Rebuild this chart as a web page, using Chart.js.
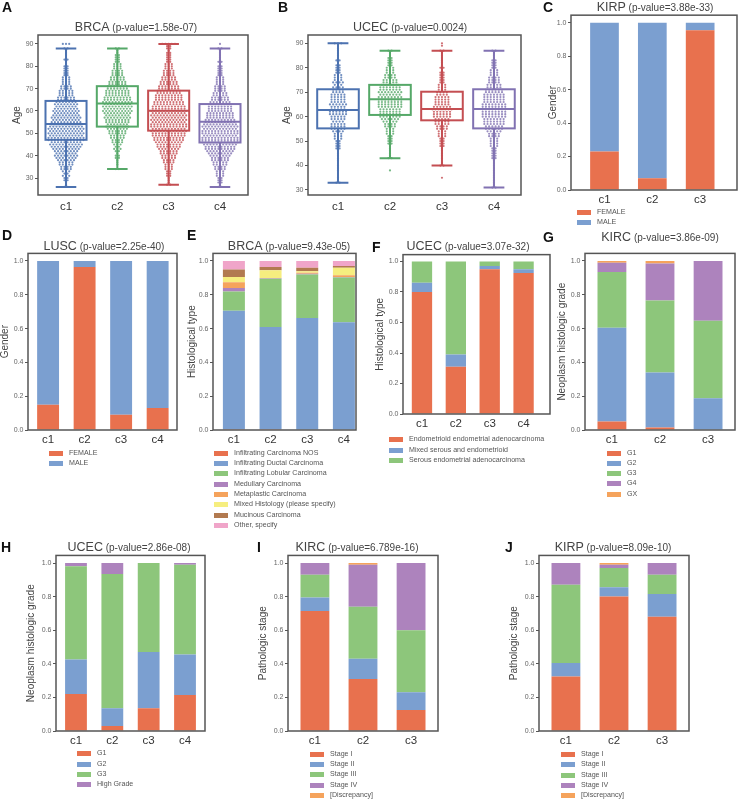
<!DOCTYPE html>
<html>
<head>
<meta charset="utf-8">
<script src="https://cdn.jsdelivr.net/npm/chart.js@4.4.1/dist/chart.umd.min.js"></script>
<style>
body { margin: 0; background: #fff; font-family: "Liberation Sans", Arial, sans-serif; }
#fig { position: relative; width: 738px; height: 800px; overflow: hidden; background: #fff; }
#fig canvas { position: absolute; }
.lbl { position: absolute; font-weight: bold; font-size: 14px; line-height: 16px; color: #111; }
.ttl { position: absolute; white-space: nowrap; transform: translate(-50%, -50%); color: #444; font-size: 10px; line-height: 14px; }
.ttl span { font-size: 12.5px; }
.leg { position: absolute; font-size: 7.1px; color: #555; line-height: 10px; white-space: nowrap; }
.leg i { display: inline-block; width: 14px; height: 5px; margin-right: 6px; vertical-align: -1px; }
</style>
</head>
<body>
<div id="fig"></div>
<script>
// ---- data ----
const cats = ['c1', 'c2', 'c3', 'c4'];
const ageStart = 26; // counts below are patients per year of age, 26..90

// A: BRCA age
const brcaAgeC1 = [2,1,1,2,2,3,2,3,4,4, 5,5,6,7,8,7,8,9,10,11, 10,12,12,11,12,11,12,11,10,10, 9,10,9,8,9,8,7,8,7,6, 6,5,5,5,4,4,3,3,3,3, 2,2,2,2,2,1,1,2,1,1, 1,1,2,0,3];
const brcaAgeC2 = [0,0,0,0,0,0,0,0,2,0, 1,1,1,2,2,1,2,3,2,3, 4,4,5,5,6,6,7,8,7,8, 8,9,8,9,10,9,10,9,10,9, 9,8,8,8,7,7,6,6,5,5, 4,4,4,3,3,3,2,2,2,2, 1,1,2,0,0];
const brcaAgeC3 = [0,2,1,1,1,2,2,2,3,3, 3,4,4,5,5,6,6,7,8,8, 9,10,10,11,11,12,11,12,12,11, 12,11,12,11,12,11,11,10,10,9, 9,9,8,8,7,7,6,6,5,5, 4,4,4,3,3,3,2,2,2,2, 2,1,2,2,5];
const brcaAgeC4 = [2,1,2,2,2,3,3,3,4,4, 5,5,6,6,7,8,9,10,10,11, 12,12,12,11,12,12,11,12,11,10, 10,9,9,9,8,8,8,7,7,6, 6,5,5,4,4,4,3,3,3,3, 2,2,2,2,2,1,2,1,1,1, 1,1,2,0,1];
const brcaQ1 = [47.1, 53.0, 51.2, 45.9];
const brcaMed = [54.2, 63.4, 60.1, 55.2];
const brcaQ3 = [64.5, 71.1, 69.1, 63.1];
const brcaLo = [26, 34, 27, 26];
const brcaHi = [88, 88, 90, 88];

// B: UCEC age
const ucecAgeC1 = [0,0,0,0,0,0,0,2,0,1, 0,0,1,1,1,0,1,1,1,1, 1,2,2,2,2,3,3,3,4,5, 5,5,4,5,5,6,6,5,5,6, 5,5,5,5,4,4,4,3,4,3, 3,3,2,2,2,2,1,2,1,1, 1,1,1,0,3];
const ucecAgeC2 = [0,0,0,0,0,0,0,0,0,0, 0,0,1,0,0,0,0,2,1,1, 1,1,1,2,2,2,2,3,3,3, 4,4,5,6,7,7,7,7,8,8, 8,8,8,7,8,7,7,6,5,5, 4,4,3,3,3,2,2,2,2,1, 1,2,0,0,0];
const ucecAgeC3 = [0,0,0,0,0,0,0,0,0,1, 0,0,0,0,2,1,0,1,1,1, 1,1,2,2,2,2,3,3,3,4, 4,5,5,5,6,6,6,7,6,5, 5,5,5,4,4,3,3,3,2,2, 2,2,2,1,2,1,1,1,1,1, 1,2,0,1,1];
const ucecAgeC4 = [0,0,0,0,0,2,1,1,1,1, 1,1,1,1,1,1,1,2,2,2, 2,2,3,3,3,3,4,4,5,6, 6,7,7,7,8,8,8,8,8,8, 7,7,7,7,6,6,5,5,4,4, 4,3,3,3,2,2,2,2,1,1, 1,2,0,0,0];
const ucecQ1 = [55.2, 60.7, 58.5, 55.2];
const ucecMed = [62.7, 67.1, 63.1, 63.1];
const ucecQ3 = [71.2, 73.0, 70.2, 71.2];
const ucecLo = [33, 43, 40, 31];
const ucecHi = [90, 87, 87, 87];

// C / D: gender
const genderLabels = ['FEMALE', 'MALE'];
const kirpFemale = [0.23, 0.07, 0.955];
const kirpMale = [0.77, 0.93, 0.045];
const luscFemale = [0.15, 0.965, 0.09, 0.13];
const luscMale = [0.85, 0.035, 0.91, 0.87];

// E: BRCA histological type
const brcaHistLabels = ['Infiltrating Carcinoma NOS', 'Infiltrating Ductal Carcinoma', 'Infiltrating Lobular Carcinoma',
  'Medullary Carcinoma', 'Metaplastic Carcinoma', 'Mixed Histology (please specify)', 'Mucinous Carcinoma', 'Other, specify'];
const brcaNOS = [0.005, 0.005, 0.003, 0.003];
const brcaDuctal = [0.70, 0.605, 0.66, 0.635];
const brcaLobular = [0.115, 0.285, 0.257, 0.265];
const brcaMedullary = [0.02, 0.003, 0.005, 0.002];
const brcaMetaplastic = [0.035, 0.002, 0.005, 0.01];
const brcaMixed = [0.03, 0.045, 0.01, 0.045];
const brcaMucinous = [0.045, 0.02, 0.02, 0.01];
const brcaOther = [0.05, 0.035, 0.04, 0.03];

// F: UCEC histological type
const ucecHistLabels = ['Endometrioid endometrial adenocarcinoma', 'Mixed serous and endometrioid', 'Serous endometrial adenocarcinoma'];
const ucecEndo = [0.80, 0.31, 0.95, 0.925];
const ucecMixedHist = [0.06, 0.08, 0.02, 0.025];
const ucecSerous = [0.14, 0.61, 0.03, 0.05];

// G: KIRC grade
const kircGradeLabels = ['G1', 'G2', 'G3', 'G4', 'GX'];
const kircG1 = [0.05, 0.015, 0];
const kircG2 = [0.555, 0.325, 0.188];
const kircG3 = [0.33, 0.427, 0.458];
const kircG4 = [0.055, 0.218, 0.354];
const kircGX = [0.01, 0.015, 0];

// H: UCEC grade
const ucecGradeLabels = ['G1', 'G2', 'G3', 'High Grade'];
const ucecG1 = [0.22, 0.03, 0.135, 0.215];
const ucecG2 = [0.205, 0.105, 0.335, 0.24];
const ucecG3 = [0.555, 0.80, 0.53, 0.535];
const ucecHigh = [0.02, 0.065, 0, 0.01];

// I / J: pathologic stage
const stageLabels = ['Stage I', 'Stage II', 'Stage III', 'Stage IV', '[Discrepancy]'];
const kircS1 = [0.715, 0.31, 0.125];
const kircS2 = [0.08, 0.12, 0.105];
const kircS3 = [0.135, 0.31, 0.37];
const kircS4 = [0.07, 0.25, 0.40];
const kircSD = [0, 0.01, 0];
const kirpS1 = [0.325, 0.80, 0.68];
const kirpS2 = [0.08, 0.055, 0.135];
const kirpS3 = [0.465, 0.115, 0.115];
const kirpS4 = [0.13, 0.02, 0.07];
const kirpSD = [0, 0.01, 0];

// ---- colours ----
const boxCols = ['#4c72b0', '#55a868', '#c44e52', '#8172b2'];
const dotCols = ['rgba(76,114,176,0.8)', 'rgba(85,168,104,0.8)', 'rgba(196,78,82,0.8)', 'rgba(129,114,178,0.8)'];
const red = '#e8714e', blue = '#7b9fd0', green = '#8dc67b', purple = '#ad83bd',
  orange = '#f5a35c', yellow = '#f6ee7f', brown = '#b27a50', pink = '#f0a5c9';

const fig = document.getElementById('fig');
Chart.defaults.font.family = '"Liberation Sans", Arial, sans-serif';
Chart.defaults.animation = false;

// box around the plot area
const framePlugin = {
  id: 'frame',
  afterDraw(chart) {
    const a = chart.chartArea, c = chart.ctx;
    c.save();
    c.strokeStyle = '#555';
    c.lineWidth = 1.5;
    c.strokeRect(a.left, a.top, a.right - a.left, a.bottom - a.top);
    c.restore();
  }
};

// boxes, whiskers and caps drawn through the chart scales
const boxPlugin = {
  id: 'boxes',
  afterDatasetsDraw(chart, args, o) {
    if (!o.q1) return;
    const xs = chart.scales.x, ys = chart.scales.y, c = chart.ctx;
    c.save();
    c.lineWidth = 2;
    o.q1.forEach((q1, i) => {
      const xl = xs.getPixelForValue(i - 0.4), xr = xs.getPixelForValue(i + 0.4);
      const xm = xs.getPixelForValue(i);
      const cl = xs.getPixelForValue(i - 0.2), cr = xs.getPixelForValue(i + 0.2);
      const y1 = ys.getPixelForValue(q1), y3 = ys.getPixelForValue(o.q3[i]);
      const ym = ys.getPixelForValue(o.med[i]);
      const yl = ys.getPixelForValue(o.lo[i]), yh = ys.getPixelForValue(o.hi[i]);
      c.strokeStyle = o.colors[i];
      c.strokeRect(xl, y3, xr - xl, y1 - y3);
      c.beginPath();
      c.moveTo(xl, ym); c.lineTo(xr, ym);
      c.moveTo(xm, y3); c.lineTo(xm, yh);
      c.moveTo(xm, y1); c.lineTo(xm, yl);
      c.moveTo(cl, yh); c.lineTo(cr, yh);
      c.moveTo(cl, yl); c.lineTo(cr, yl);
      c.stroke();
    });
    c.restore();
  }
};

// spread the patients of one age side by side (swarm layout)
function swarm(counts, g) {
  const pts = [];
  counts.forEach((n, k) => {
    for (let j = 0; j < n; j++) pts.push({x: g + (j - (n - 1) / 2) * 0.062, y: ageStart + k});
  });
  return pts;
}

function addText(cls, html, x, y) {
  const d = document.createElement('div');
  d.className = cls;
  d.innerHTML = html;
  d.style.left = x + 'px';
  d.style.top = y + 'px';
  fig.appendChild(d);
}

function legend(x, y0, step, labels, colors) {
  labels.forEach((l, k) => {
    addText('leg', '<i style="background:' + colors[k] + '"></i>' + l, x, y0 + k * step - 5);
  });
}

function makeChart(f, type, datasets, n, ymin, ymax, ystep, fmt, plugOpts) {
  const xh = 30;
  const left = Math.round(f.tx - 6);
  const top = Math.round(f.t) - 10;
  const w = Math.round(f.r) + 10 - left;
  const h = Math.round(f.b) - top + xh;
  const cv = document.createElement('canvas');
  cv.width = w; cv.height = h;
  cv.style.left = left + 'px'; cv.style.top = top + 'px';
  cv.style.width = w + 'px'; cv.style.height = h + 'px';
  fig.appendChild(cv);
  new Chart(cv, {
    type: type,
    data: {datasets: datasets},
    plugins: [boxPlugin, framePlugin],
    options: {
      responsive: false,
      events: [],
      layout: {padding: {top: f.t - top, right: 10, left: 0, bottom: 0}},
      plugins: {legend: {display: false}, tooltip: {enabled: false}, boxes: plugOpts || {}},
      scales: {
        x: {
          type: 'linear', min: f.xmin, max: f.xmax, offset: false, stacked: type === 'bar',
          border: {display: false}, grid: {display: false, drawTicks: false, offset: false},
          ticks: {color: '#333', font: {size: 11.5}, padding: f.xpad, callback: v => cats[v]},
          afterBuildTicks: s => { s.ticks = cats.slice(0, n).map((c, i) => ({value: i})); },
          afterFit: s => { s.height = xh; }
        },
        y: {
          min: ymin, max: ymax, stacked: type === 'bar',
          border: {display: false},
          grid: {display: true, drawOnChartArea: false, drawTicks: true, tickLength: 3, tickColor: '#555'},
          ticks: {stepSize: ystep, includeBounds: false, color: '#666', font: {size: 7}, padding: 1.5, callback: fmt},
          title: {display: true, text: f.ytitle, color: '#444', font: {size: 10}, padding: 0},
          afterFit: s => { s.width = f.l - left; }
        }
      }
    }
  });
}

function stackedSets(series, labels, colors) {
  return series.map((vals, k) => ({
    label: labels[k],
    data: vals.map((v, i) => ({x: i, y: v})),
    backgroundColor: colors[k],
    borderWidth: 0,
    barPercentage: 0.6,
    categoryPercentage: 1
  }));
}

const frac = v => v.toFixed(1);
const yTop = 1.045;

// ---- panel A ----
const fA = {l: 38, r: 248, t: 35, b: 195, xmin: -0.546, xmax: 3.546, tx: 17, xpad: 5, ytitle: 'Age'};
makeChart(fA, 'scatter', [brcaAgeC1, brcaAgeC2, brcaAgeC3, brcaAgeC4].map((cnt, g) => ({
  data: swarm(cnt, g), backgroundColor: dotCols[g], borderWidth: 0, pointRadius: 1.1
})), 4, 22.4, 94.0, 10, v => v, {q1: brcaQ1, med: brcaMed, q3: brcaQ3, lo: brcaLo, hi: brcaHi, colors: boxCols});

// ---- panel B ----
const fB = {l: 308, r: 521, t: 35, b: 195, xmin: -0.577, xmax: 3.52, tx: 287, xpad: 5, ytitle: 'Age'};
makeChart(fB, 'scatter', [ucecAgeC1, ucecAgeC2, ucecAgeC3, ucecAgeC4].map((cnt, g) => ({
  data: swarm(cnt, g), backgroundColor: dotCols[g], borderWidth: 0, pointRadius: 1.1
})), 4, 27.95, 93.4, 10, v => v, {q1: ucecQ1, med: ucecMed, q3: ucecQ3, lo: ucecLo, hi: ucecHi, colors: boxCols});

// ---- panel C ----
const fC = {l: 571, r: 737, t: 190 - 167.3 * yTop, b: 190, xmin: -0.70, xmax: 2.77, tx: 553, xpad: 3, ytitle: 'Gender'};
makeChart(fC, 'bar', stackedSets([kirpFemale, kirpMale], genderLabels, [red, blue]), 3, 0, yTop, 0.2, frac);
legend(577, 212, 10, genderLabels, [red, blue]);

// ---- panel D ----
const fD = {l: 28, r: 177, t: 430 - 169 * yTop, b: 430, xmin: -0.55, xmax: 3.53, tx: 5, xpad: 3, ytitle: 'Gender'};
makeChart(fD, 'bar', stackedSets([luscFemale, luscMale], genderLabels, [red, blue]), 4, 0, yTop, 0.2, frac);
legend(49, 452.7, 10, genderLabels, [red, blue]);

// ---- panel E ----
const eCols = [red, blue, green, purple, orange, yellow, brown, pink];
const fE = {l: 213, r: 356, t: 430 - 169 * yTop, b: 430, xmin: -0.57, xmax: 3.33, tx: 192, xpad: 3, ytitle: 'Histological type'};
makeChart(fE, 'bar', stackedSets([brcaNOS, brcaDuctal, brcaLobular, brcaMedullary, brcaMetaplastic, brcaMixed, brcaMucinous, brcaOther],
  brcaHistLabels, eCols), 4, 0, yTop, 0.2, frac);
legend(214, 452.7, 10.33, brcaHistLabels, eCols);

// ---- panel F ----
const fF = {l: 403, r: 550, t: 414 - 152.5 * yTop, b: 414, xmin: -0.56, xmax: 3.78, tx: 380, xpad: 3, ytitle: 'Histological type'};
makeChart(fF, 'bar', stackedSets([ucecEndo, ucecMixedHist, ucecSerous], ucecHistLabels, [red, blue, green]), 4, 0, yTop, 0.2, frac);
legend(389, 439.3, 10.3, ucecHistLabels, [red, blue, green]);

// ---- panel G ----
const gCols = [red, blue, green, purple, orange];
const fG = {l: 585, r: 735, t: 430 - 169 * yTop, b: 430, xmin: -0.56, xmax: 2.56, tx: 562, xpad: 3, ytitle: 'Neoplasm histologic grade'};
makeChart(fG, 'bar', stackedSets([kircG1, kircG2, kircG3, kircG4, kircGX], kircGradeLabels, gCols), 3, 0, yTop, 0.2, frac);
legend(607, 452.7, 10.2, kircGradeLabels, gCols);

// ---- panel H ----
const hCols = [red, blue, green, purple];
const fH = {l: 56, r: 205, t: 731 - 168 * yTop, b: 731, xmin: -0.55, xmax: 3.55, tx: 31, xpad: 3, ytitle: 'Neoplasm histologic grade'};
makeChart(fH, 'bar', stackedSets([ucecG1, ucecG2, ucecG3, ucecHigh], ucecGradeLabels, hCols), 4, 0, yTop, 0.2, frac);
legend(77, 753.3, 10.3, ucecGradeLabels, hCols);

// ---- panel I ----
const sCols = [red, blue, green, purple, orange];
const fI = {l: 288, r: 438, t: 731 - 168 * yTop, b: 731, xmin: -0.56, xmax: 2.56, tx: 263, xpad: 3, ytitle: 'Pathologic stage'};
makeChart(fI, 'bar', stackedSets([kircS1, kircS2, kircS3, kircS4, kircSD], stageLabels, sCols), 3, 0, yTop, 0.2, frac);
legend(310, 753.7, 10.3, stageLabels, sCols);

// ---- panel J ----
const fJ = {l: 539, r: 689, t: 731 - 168 * yTop, b: 731, xmin: -0.56, xmax: 2.56, tx: 514, xpad: 3, ytitle: 'Pathologic stage'};
makeChart(fJ, 'bar', stackedSets([kirpS1, kirpS2, kirpS3, kirpS4, kirpSD], stageLabels, sCols), 3, 0, yTop, 0.2, frac);
legend(561, 754, 10.3, stageLabels, sCols);

// ---- titles and panel letters ----
const titles = [
  ['BRCA', '1.58e-07', 136, 27], ['UCEC', '0.0024', 410, 27], ['KIRP', '3.88e-33', 655, 7],
  ['LUSC', '2.25e-40', 104, 246], ['BRCA', '9.43e-05', 289, 246], ['UCEC', '3.07e-32', 468, 246],
  ['KIRC', '3.86e-09', 660, 237], ['UCEC', '2.86e-08', 129, 547], ['KIRC', '6.789e-16', 357, 547],
  ['KIRP', '8.09e-10', 613, 547]
];
titles.forEach(t => addText('ttl', '<span>' + t[0] + '</span> (p-value=' + t[1] + ')', t[2], t[3]));

const letters = [['A', 7, 7], ['B', 283, 7], ['C', 548, 7], ['D', 7, 235], ['E', 192, 235], ['F', 377, 247],
  ['G', 548, 237], ['H', 6, 547], ['I', 262, 547], ['J', 510, 547]];
letters.forEach(l => addText('lbl', l[0], l[1] - 5, l[2] - 8));
</script>
</body>
</html>
